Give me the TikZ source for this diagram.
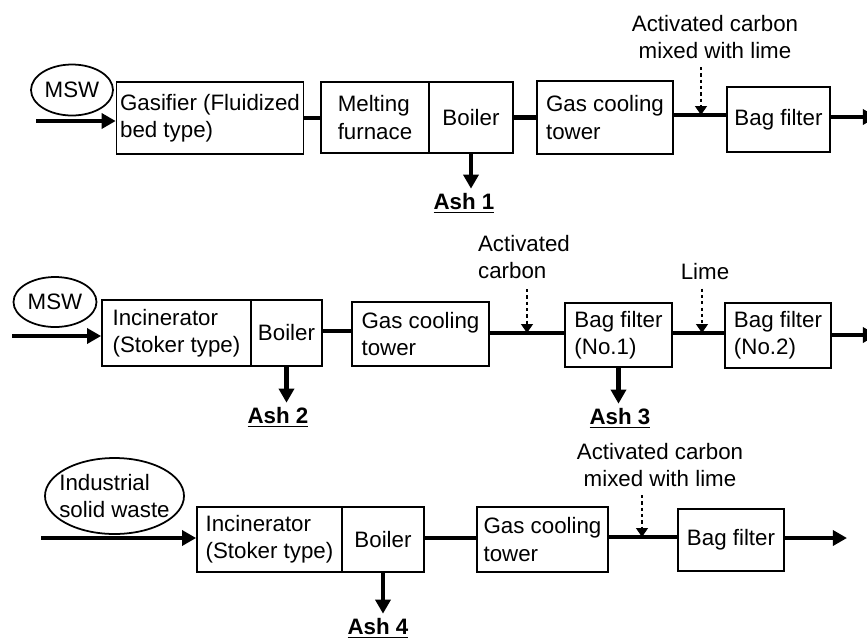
\documentclass[tikz,border=0pt]{standalone}
\usepackage{fontspec}
\setmainfont{Liberation Sans}
\usepackage{tikz}
\usetikzlibrary{
    arrows.meta,
    positioning,
    shapes.geometric,
    calc
}
\newcommand{\diagfont}{\fontsize{12.7}{15.4}\selectfont}
\tikzstyle{unit} = [draw, line width=1pt, inner sep=2pt, align=left]
\tikzstyle{feed} = [draw, ellipse, line width=1pt, inner sep=0pt, align=left]
\tikzstyle{pipe} = [line width=2.3pt]
\tikzstyle{flow} = [line width=2.3pt, -{Triangle[length=8pt,width=8.5pt]}]
\tikzstyle{dose} = [line width=1.7pt, dash pattern=on 1.8pt off 1.8pt, -{Triangle[length=5pt,width=6.5pt]}]
\tikzstyle{lbl} = [inner sep=0pt]
\tikzstyle{ash} = [inner sep=0pt, font=\diagfont\bfseries]

\begin{document}
\begin{tikzpicture}[x=0.02cm,y=-0.02cm,font=\diagfont]
\useasboundingbox (0,0) rectangle (867,637);
% line 1: gasification
\node[feed, minimum width=1.64cm, minimum height=1.02cm] (msw1) at (72,90) {MSW};
\node[unit, minimum width=3.72cm, minimum height=1.44cm] (gasif) at (210,118) {Gasifier (Fluidized\\bed type)};
\node[unit, minimum width=2.16cm, minimum height=1.42cm] (melt) at (375,117.5) {Melting\\furnace};
\node[unit, minimum width=1.68cm, minimum height=1.42cm] (boil1) at (471,117.5) {Boiler};
\node[unit, minimum width=2.72cm, minimum height=1.46cm] (gct1) at (605,117.5) {Gas cooling\\tower};
\node[unit, minimum width=2.06cm, minimum height=1.30cm] (bag1) at (778.5,119.5) {Bag filter};
\node[lbl, align=center] (ac1) at (715,37) {Activated carbon\\mixed with lime};
\node[ash] (ash1) at (464,203) {\underline{Ash 1}};
\coordinate (in1) at (36,121);
\coordinate (inj1) at (701,115);
\coordinate (out1) at (877,117);
\draw[flow] (in1) -- (in1 -| gasif.west);
\draw[pipe] (gasif.east) -- (gasif.east -| melt.west);
\draw[pipe] (boil1.east) -- (boil1.east -| gct1.west);
\draw[pipe] (gct1.east |- inj1) -- (inj1 -| bag1.west);
\draw[dose] ($(ac1.south -| inj1)+(0,8)$) -- (inj1);
\draw[flow] (bag1.east |- out1) -- (out1);
\draw[flow] (boil1.south) -- ($(boil1.south |- ash1.north)+(0,-4)$);

% line 2: stoker incineration
\node[feed, minimum width=1.66cm, minimum height=1.00cm] (msw2) at (55,302) {MSW};
\node[unit, minimum width=2.98cm, minimum height=1.32cm] (inc2) at (176.5,333) {Incinerator\\(Stoker type)};
\node[unit, minimum width=1.42cm, minimum height=1.32cm] (boil2) at (286.5,333) {Boiler};
\node[unit, minimum width=2.74cm, minimum height=1.28cm] (gct2) at (420.5,334) {Gas cooling\\tower};
\node[unit, minimum width=2.14cm, minimum height=1.28cm] (bagA) at (618.5,335) {Bag filter\\(No.1)};
\node[unit, minimum width=2.12cm, minimum height=1.30cm] (bagB) at (778,335.5) {Bag filter\\(No.2)};
\node[lbl, align=left] (ac2) at (524,257) {Activated\\carbon};
\node[lbl] (lime2) at (705,272) {Lime};
\node[ash] (ash2) at (278,417) {\underline{Ash 2}};
\node[ash] (ash3) at (620,418) {\underline{Ash 3}};
\coordinate (in2) at (12,336);
\coordinate (inj2) at (527,333);
\coordinate (inj3) at (702,333);
\coordinate (out2) at (877,335);
\draw[flow] (in2) -- (in2 -| inc2.west);
\draw[pipe] (boil2.east |- 0,331) -- (gct2.west |- 0,331);
\draw[pipe] (gct2.east |- inj2) -- (inj2 -| bagA.west);
\draw[pipe] (bagA.east |- inj3) -- (inj3 -| bagB.west);
\draw[dose] ($(ac2.south -| inj2)+(0,10)$) -- (inj2);
\draw[dose] ($(lime2.south -| inj3)+(0,8)$) -- (inj3);
\draw[flow] (bagB.east |- out2) -- (out2);
\draw[flow] (boil2.south) -- ($(boil2.south |- ash2.north)+(0,-4)$);
\draw[flow] (bagA.south) -- ($(bagA.south |- ash3.north)+(0,-4)$);

% line 3: industrial waste
\node[feed, inner xsep=-4pt, minimum width=2.78cm, minimum height=1.52cm] (isw) at (114.5,496) {Industrial\\solid waste};
\node[unit, minimum width=2.90cm, minimum height=1.30cm] (inc3) at (269.5,539.5) {Incinerator\\(Stoker type)};
\node[unit, minimum width=1.64cm, minimum height=1.30cm] (boil3) at (383,539.5) {Boiler};
\node[unit, minimum width=2.62cm, minimum height=1.30cm] (gct3) at (542.5,539.5) {Gas cooling\\tower};
\node[unit, minimum width=2.12cm, minimum height=1.24cm] (bag3) at (731,540) {Bag filter};
\node[lbl, align=center] (ac3) at (660,465) {Activated carbon\\mixed with lime};
\node[ash] (ash4) at (378,628) {\underline{Ash 4}};
\coordinate (in3) at (41,538);
\coordinate (inj4) at (642,537);
\coordinate (out3) at (847,538);
\draw[flow] (in3) -- (in3 -| inc3.west);
\draw[pipe] (boil3.east |- in3) -- (gct3.west |- in3);
\draw[pipe] (gct3.east |- inj4) -- (inj4 -| bag3.west);
\draw[dose] ($(ac3.south -| inj4)+(0,8)$) -- (inj4);
\draw[flow] (bag3.east |- out3) -- (out3);
\draw[flow] (boil3.south) -- ($(boil3.south |- ash4.north)+(0,-4)$);
\end{tikzpicture}
\end{document}
